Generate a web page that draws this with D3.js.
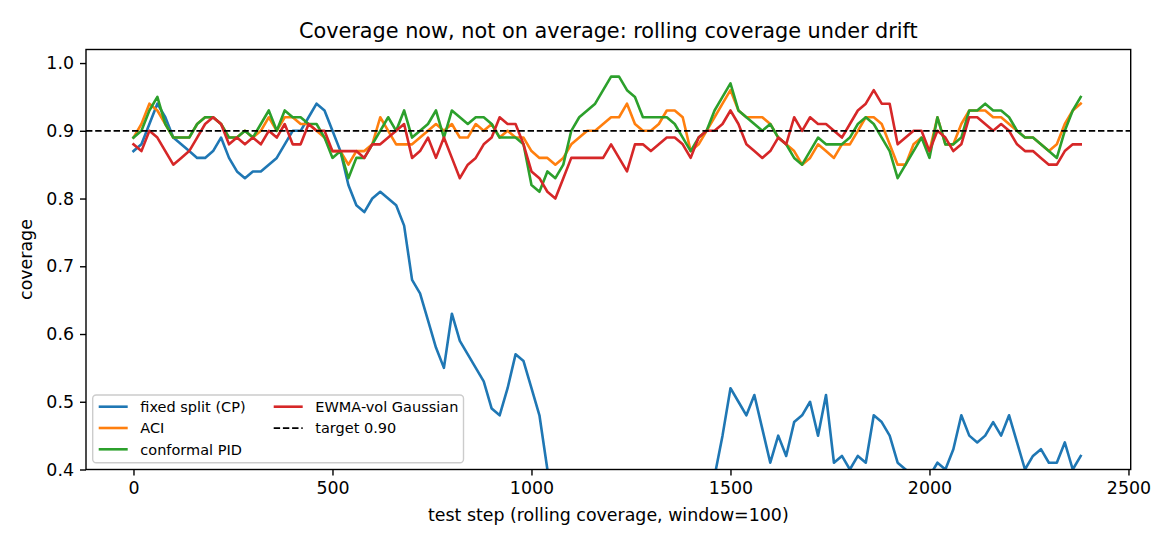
<!DOCTYPE html>
<html>
<head>
<meta charset="utf-8">
<script src="https://cdn.jsdelivr.net/npm/d3@7"></script>
<style>
  body { margin: 0; background: #fff; }
  svg { display: block; font-family: 'DejaVu Sans', sans-serif; }
</style>
</head>
<body>
<div id="chart"></div>
<script>
// test steps (one sample every 20 steps)
var steps = d3.range(0, 2400, 20);

// rolling coverage, window=100
var fixedSplit = [
  0.87, 0.88, 0.91, 0.94, 0.92, 0.89, 0.88, 0.87, 0.86, 0.86,
  0.87, 0.89, 0.86, 0.84, 0.83, 0.84, 0.84, 0.85, 0.86, 0.88,
  0.90, 0.90, 0.92, 0.94, 0.93, 0.90, 0.87, 0.82, 0.79, 0.78,
  0.80, 0.81, 0.80, 0.79, 0.76, 0.68, 0.66, 0.62, 0.58, 0.55,
  0.63, 0.59, 0.57, 0.55, 0.53, 0.49, 0.48, 0.52, 0.57, 0.56,
  0.52, 0.48, 0.40, 0.37, 0.34, 0.32, 0.30, 0.29, 0.30, 0.31,
  0.30, 0.28, 0.27, 0.29, 0.31, 0.33, 0.32, 0.30, 0.31, 0.33,
  0.35, 0.36, 0.38, 0.39, 0.45, 0.52, 0.50, 0.48, 0.51, 0.46,
  0.41, 0.45, 0.42, 0.47, 0.48, 0.50, 0.45, 0.51, 0.41, 0.42,
  0.40, 0.42, 0.41, 0.48, 0.47, 0.45, 0.41, 0.40, 0.39, 0.38,
  0.39, 0.41, 0.40, 0.43, 0.48, 0.45, 0.44, 0.45, 0.47, 0.45,
  0.48, 0.44, 0.40, 0.42, 0.43, 0.41, 0.41, 0.44, 0.40, 0.42
];

var aci = [
  0.89, 0.91, 0.94, 0.93, 0.91, 0.89, 0.89, 0.89, 0.91, 0.92,
  0.92, 0.91, 0.89, 0.89, 0.90, 0.89, 0.90, 0.92, 0.90, 0.92,
  0.92, 0.91, 0.91, 0.90, 0.89, 0.87, 0.87, 0.85, 0.87, 0.87,
  0.88, 0.92, 0.90, 0.88, 0.88, 0.88, 0.89, 0.90, 0.91, 0.90,
  0.91, 0.89, 0.89, 0.91, 0.90, 0.91, 0.89, 0.90, 0.89, 0.89,
  0.87, 0.86, 0.86, 0.85, 0.86, 0.88, 0.89, 0.90, 0.90, 0.91,
  0.92, 0.92, 0.94, 0.91, 0.90, 0.90, 0.91, 0.93, 0.93, 0.92,
  0.87, 0.88, 0.90, 0.92, 0.94, 0.96, 0.93, 0.92, 0.92, 0.92,
  0.91, 0.89, 0.88, 0.87, 0.85, 0.86, 0.88, 0.87, 0.86, 0.88,
  0.88, 0.90, 0.92, 0.92, 0.91, 0.88, 0.85, 0.85, 0.88, 0.89,
  0.87, 0.92, 0.88, 0.88, 0.91, 0.93, 0.93, 0.93, 0.92, 0.92,
  0.91, 0.90, 0.89, 0.89, 0.88, 0.87, 0.88, 0.91, 0.93, 0.94
];

var conformalPid = [
  0.89, 0.90, 0.93, 0.95, 0.91, 0.89, 0.89, 0.89, 0.91, 0.92,
  0.92, 0.91, 0.89, 0.89, 0.90, 0.89, 0.91, 0.93, 0.90, 0.93,
  0.92, 0.92, 0.91, 0.91, 0.89, 0.86, 0.87, 0.83, 0.86, 0.86,
  0.88, 0.90, 0.92, 0.90, 0.93, 0.89, 0.90, 0.91, 0.93, 0.89,
  0.93, 0.92, 0.91, 0.92, 0.92, 0.91, 0.89, 0.89, 0.89, 0.88,
  0.82, 0.81, 0.84, 0.83, 0.85, 0.90, 0.92, 0.93, 0.94, 0.96,
  0.98, 0.98, 0.96, 0.95, 0.92, 0.92, 0.92, 0.92, 0.91, 0.89,
  0.87, 0.89, 0.90, 0.93, 0.95, 0.97, 0.93, 0.92, 0.91, 0.90,
  0.91, 0.89, 0.88, 0.86, 0.85, 0.87, 0.89, 0.88, 0.88, 0.88,
  0.89, 0.91, 0.92, 0.91, 0.89, 0.87, 0.83, 0.85, 0.87, 0.89,
  0.86, 0.92, 0.88, 0.88, 0.89, 0.93, 0.93, 0.94, 0.93, 0.93,
  0.92, 0.90, 0.89, 0.89, 0.88, 0.87, 0.86, 0.90, 0.93, 0.95
];

var ewmaVol = [
  0.88, 0.87, 0.90, 0.89, 0.87, 0.85, 0.86, 0.87, 0.89, 0.91,
  0.92, 0.91, 0.88, 0.89, 0.88, 0.89, 0.88, 0.90, 0.89, 0.91,
  0.88, 0.88, 0.91, 0.90, 0.90, 0.87, 0.87, 0.87, 0.87, 0.86,
  0.88, 0.88, 0.89, 0.90, 0.91, 0.86, 0.87, 0.89, 0.86, 0.89,
  0.86, 0.83, 0.85, 0.86, 0.88, 0.89, 0.92, 0.91, 0.91, 0.88,
  0.84, 0.83, 0.81, 0.80, 0.83, 0.86, 0.86, 0.86, 0.86, 0.86,
  0.88, 0.86, 0.84, 0.88, 0.88, 0.87, 0.88, 0.89, 0.89, 0.88,
  0.86, 0.89, 0.90, 0.90, 0.91, 0.93, 0.91, 0.88, 0.87, 0.86,
  0.87, 0.89, 0.88, 0.92, 0.90, 0.92, 0.91, 0.91, 0.90, 0.89,
  0.91, 0.93, 0.94, 0.96, 0.94, 0.94, 0.88, 0.89, 0.90, 0.90,
  0.87, 0.90, 0.89, 0.87, 0.88, 0.92, 0.92, 0.91, 0.90, 0.91,
  0.90, 0.88, 0.87, 0.87, 0.86, 0.85, 0.85, 0.87, 0.88, 0.88
];

var target = 0.90;

var seriesNames = ['fixed split (CP)', 'ACI', 'conformal PID', 'EWMA-vol Gaussian'];
var seriesValues = [fixedSplit, aci, conformalPid, ewmaVol];
var seriesColors = ['#1f77b4', '#ff7f0e', '#2ca02c', '#d62728'];

var xTicks = [0, 500, 1000, 1500, 2000, 2500];
var yTicks = [0.4, 0.5, 0.6, 0.7, 0.8, 0.9, 1.0];

// figure size and axes box
var width = 1170;
var height = 546;
var margin = {top: 49.5, right: 39.3, bottom: 76.5, left: 86};
var w = width - margin.left - margin.right;
var h = height - margin.top - margin.bottom;

var tickFont = 17.4;
var legendFont = 14.5;

var svg = d3.select('#chart').append('svg')
  .attr('width', width)
  .attr('height', height);

var x = d3.scaleLinear().domain([-119.3, 2505.6]).range([0, w]);
var y = d3.scaleLinear().domain([0.4, 1.02]).range([h, 0]);

var mainG = svg.append('g')
  .attr('transform', 'translate(' + margin.left + ',' + margin.top + ')');

mainG.append('clipPath').attr('id', 'plot-clip')
  .append('rect').attr('width', w).attr('height', h);

// lines
var line = d3.line()
  .x(function(d) { return x(d[0]); })
  .y(function(d) { return y(d[1]); });

var linesG = mainG.append('g').attr('clip-path', 'url(#plot-clip)');

seriesValues.forEach(function(vals, i) {
  var pts = steps.map(function(s, j) { return [s, vals[j]]; });
  linesG.append('path')
    .datum(pts)
    .attr('d', line)
    .attr('fill', 'none')
    .attr('stroke', seriesColors[i])
    .attr('stroke-width', 2.6)
    .attr('stroke-linejoin', 'round')
    .attr('stroke-linecap', 'square');
});

// target line
linesG.append('line')
  .attr('x1', 0).attr('x2', w)
  .attr('y1', y(target)).attr('y2', y(target))
  .attr('stroke', '#000')
  .attr('stroke-width', 1.75)
  .attr('stroke-dasharray', '6.4,2.8');

// axes
var xAxis = mainG.append('g')
  .attr('transform', 'translate(0,' + h + ')')
  .call(d3.axisBottom(x).tickValues(xTicks).tickSize(6).tickPadding(6).tickFormat(d3.format('d')));

var yAxis = mainG.append('g')
  .call(d3.axisLeft(y).tickValues(yTicks).tickSize(6).tickPadding(6).tickFormat(d3.format('.1f')));

[xAxis, yAxis].forEach(function(g) {
  g.select('.domain').remove();
  g.selectAll('line').attr('stroke', '#000').attr('stroke-width', 1.4);
  g.selectAll('text')
    .attr('fill', '#000')
    .style('font-size', tickFont + 'px')
    .style('font-family', "'DejaVu Sans', sans-serif");
});

// spines
mainG.append('rect')
  .attr('width', w).attr('height', h)
  .attr('fill', 'none')
  .attr('stroke', '#000')
  .attr('stroke-width', 1.4);

// title and axis labels
svg.append('text')
  .attr('x', margin.left + w / 2)
  .attr('y', 38)
  .attr('text-anchor', 'middle')
  .style('font-size', '20.8px')
  .text('Coverage now, not on average: rolling coverage under drift');

svg.append('text')
  .attr('x', margin.left + w / 2)
  .attr('y', 521)
  .attr('text-anchor', 'middle')
  .style('font-size', tickFont + 'px')
  .text('test step (rolling coverage, window=100)');

svg.append('text')
  .attr('transform', 'translate(32,' + (margin.top + h / 2) + ') rotate(-90)')
  .attr('text-anchor', 'middle')
  .style('font-size', tickFont + 'px')
  .text('coverage');

// legend
var legendItems = seriesNames.map(function(n, i) {
  return {label: n, color: seriesColors[i], dash: null};
});
legendItems.push({label: 'target 0.90', color: '#000', dash: '6.4,2.8'});

var legendG = svg.append('g');
legendG.append('rect')
  .attr('x', 92.7).attr('y', 395)
  .attr('width', 370.8).attr('height', 67.7)
  .attr('rx', 3.5).attr('ry', 3.5)
  .attr('fill', '#fff').attr('fill-opacity', 0.8)
  .attr('stroke', '#cccccc').attr('stroke-width', 1.4);

var colX = [98.7, 273.7];
var rowY = [406.7, 428, 449.3];

legendItems.forEach(function(d, i) {
  var cx = colX[i < 3 ? 0 : 1];
  var cy = rowY[i < 3 ? i : i - 3];
  legendG.append('line')
    .attr('x1', cx).attr('x2', cx + 29)
    .attr('y1', cy).attr('y2', cy)
    .attr('stroke', d.color)
    .attr('stroke-width', d.dash ? 1.75 : 2.6)
    .attr('stroke-dasharray', d.dash);
  legendG.append('text')
    .attr('x', cx + 41.6)
    .attr('y', cy + 5.2)
    .style('font-size', legendFont + 'px')
    .text(d.label);
});
</script>
</body>
</html>
